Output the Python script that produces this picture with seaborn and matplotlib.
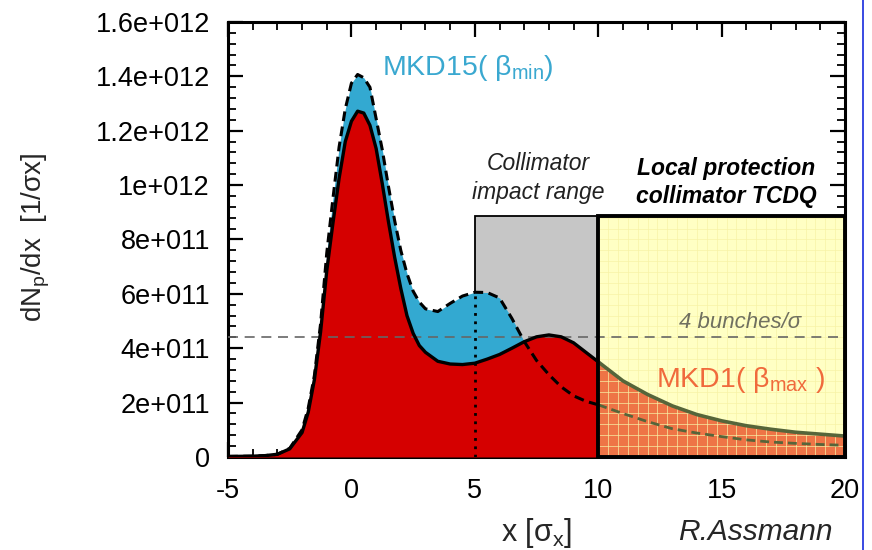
import numpy as np
import pandas as pd
import seaborn as sns
import matplotlib
matplotlib.use("Agg")
import matplotlib.pyplot as plt
from matplotlib.patches import Rectangle
from matplotlib.lines import Line2D
from matplotlib.ticker import MultipleLocator

# Beam position in units of sigma_x
x_sigma = [-5, -4, -3.5, -3, -2.5, -2, -1.75, -1.5, -1.25, -1,
           -0.75, -0.5, -0.25, 0, 0.25, 0.5, 0.75, 1, 1.25, 1.5,
           1.75, 2, 2.25, 2.5, 2.75, 3, 3.5, 4, 4.5, 5,
           5.5, 6, 6.5, 7, 7.5, 8, 8.5, 9, 9.5, 10,
           11, 12, 13, 14, 15, 16, 17, 18, 19, 20]

# Proton density dN_p/dx for an MKD1 (beta max) asynchronous dump
density_mkd1 = [0.02e11, 0.03e11, 0.05e11, 0.1e11, 0.3e11, 0.9e11, 1.65e11, 2.85e11, 4.6e11, 6.85e11,
                8.6e11, 10.25e11, 11.6e11, 12.35e11, 12.72e11, 12.65e11, 12.2e11, 11.35e11, 10.05e11, 8.65e11,
                7.35e11, 6.2e11, 5.2e11, 4.55e11, 4.1e11, 3.85e11, 3.52e11, 3.42e11, 3.4e11, 3.45e11,
                3.6e11, 3.77e11, 4.0e11, 4.24e11, 4.42e11, 4.49e11, 4.42e11, 4.2e11, 3.85e11, 3.5e11,
                2.8e11, 2.3e11, 1.88e11, 1.56e11, 1.33e11, 1.15e11, 1.02e11, 0.91e11, 0.84e11, 0.77e11]

# Proton density dN_p/dx for an MKD15 (beta min) asynchronous dump
density_mkd15 = [0.02e11, 0.03e11, 0.05e11, 0.1e11, 0.32e11, 1.0e11, 1.8e11, 3.0e11, 4.9e11, 7.5e11,
                 9.5e11, 11.4e11, 12.8e11, 13.75e11, 14.07e11, 13.95e11, 13.6e11, 12.45e11, 11.3e11, 9.95e11,
                 8.7e11, 7.6e11, 6.75e11, 6.1e11, 5.7e11, 5.45e11, 5.35e11, 5.65e11, 5.92e11, 6.06e11,
                 6.05e11, 5.85e11, 5.1e11, 4.25e11, 3.55e11, 3.03e11, 2.58e11, 2.25e11, 2.05e11, 1.92e11,
                 1.6e11, 1.3e11, 1.04e11, 0.88e11, 0.75e11, 0.63e11, 0.55e11, 0.5e11, 0.46e11, 0.43e11]

bunch_level = 4.4e11          # 4 bunches per sigma
collimator_edge = 5           # start of collimator impact range
tcdq_edge = 10                # start of TCDQ protection
x_end = 20
box_top = 8.85e11

xtick_values = [-5, 0, 5, 10, 15, 20]
xtick_labels = ["-5", "0", "5", "10", "15", "20"]
ytick_values = [0, 2e11, 4e11, 6e11, 8e11, 1e12, 1.2e12, 1.4e12, 1.6e12]
ytick_labels = ["0", "2e+011", "4e+011", "6e+011", "8e+011",
                "1e+012", "1.2e+012", "1.4e+012", "1.6e+012"]

sns.set_theme(style="ticks")
plt.rcParams["font.family"] = ["Liberation Sans", "DejaVu Sans"]
plt.rcParams["mathtext.fontset"] = "custom"
plt.rcParams["mathtext.rm"] = "Liberation Sans"
plt.rcParams["mathtext.it"] = "Liberation Sans:italic"
plt.rcParams["mathtext.bf"] = "Liberation Sans:bold"

RED = "#d50000"
BLUE = "#33a9d1"
GREY = "#c6c6c6"
YELLOW = "#ffffc4"
ORANGE = "#ee7446"
OLIVE = "#56653a"

df = pd.DataFrame({"x": x_sigma, "mkd1": density_mkd1, "mkd15": density_mkd15})
inner = df[df.x <= tcdq_edge]
outer = df[df.x >= tcdq_edge]

fig = plt.figure(figsize=(8.72, 5.5), dpi=100)
ax = fig.add_axes([0.2615, 0.1691, 0.7076, 0.7909])

# collimator impact range and TCDQ protection zone
ax.add_patch(Rectangle((collimator_edge, 0), tcdq_edge - collimator_edge, box_top,
                       facecolor=GREY, edgecolor="black", lw=1.3, zorder=1))
ax.add_patch(Rectangle((tcdq_edge, 0), x_end - tcdq_edge, box_top,
                       facecolor=YELLOW, edgecolor="none", zorder=1))

# filled distributions
ax.fill_between(inner.x, 0, inner.mkd15, color=BLUE, lw=0, zorder=2)
ax.fill_between(inner.x, 0, inner.mkd1, color=RED, lw=0, zorder=3)
ax.fill_between(outer.x, 0, outer.mkd1, color=ORANGE, lw=0, zorder=3)

# faint graph-paper grid inside the TCDQ zone
ax.vlines(np.arange(tcdq_edge + 0.4, x_end, 0.4), 0, box_top,
          colors="#f7f2a6", lw=0.6, alpha=0.8, zorder=3.5)
ax.hlines(np.arange(0.4e11, box_top, 0.4e11), tcdq_edge, x_end,
          colors="#f7f2a6", lw=0.6, alpha=0.8, zorder=3.5)

# 4 bunches per sigma level
ax.axhline(bunch_level, color="#666666", lw=1.2, ls=(0, (6, 4)), zorder=4)

# curve outlines
sns.lineplot(data=inner, x="x", y="mkd1", color="black", lw=2.4, ax=ax,
             sort=False, estimator=None, zorder=6)
sns.lineplot(data=inner, x="x", y="mkd15", color="black", lw=2.2, ax=ax,
             sort=False, estimator=None, linestyle=(0, (3.2, 1.8)), zorder=6)
sns.lineplot(data=outer, x="x", y="mkd1", color=OLIVE, lw=2.6, ax=ax,
             sort=False, estimator=None, zorder=6)
sns.lineplot(data=outer, x="x", y="mkd15", color=OLIVE, lw=2.0, ax=ax,
             sort=False, estimator=None, linestyle=(0, (3.2, 1.8)), zorder=6)

# dotted marker at the collimator edge, up to the MKD15 curve
edge_height = df.loc[df.x == collimator_edge, "mkd15"].iloc[0]
ax.vlines(collimator_edge, 0, edge_height, colors="black", lw=2.0,
          linestyles=(0, (1, 2)), zorder=6)

# frame of the TCDQ zone
ax.add_patch(Rectangle((tcdq_edge, 0), x_end - tcdq_edge, box_top,
                       facecolor="none", edgecolor="black", lw=2.8, zorder=7, clip_on=False))

# annotations
ax.text(1.23, 14.04e11, "MKD15( β$_{\\mathrm{min}}$)", color="#3aa8d0",
        fontsize=20.5, ha="left", va="baseline", zorder=8)
ax.text(7.58, 10.26e11, "Collimator\nimpact range", style="italic", color="#222222",
        fontsize=16.5, ha="center", va="center", linespacing=1.3, zorder=8)
ax.text(15.19, 10.09e11, "Local protection\ncollimator TCDQ", style="italic",
        weight="bold", color="black", fontsize=16.5, ha="center", va="center",
        linespacing=1.25, zorder=8)
ax.text(15.75, 4.96e11, "4 bunches/σ", style="italic", color="#707060",
        fontsize=16, ha="center", va="center", zorder=8)
ax.text(12.35, 2.57e11, "MKD1( β$_{\\mathrm{max}}$ )", color="#f06a3c",
        fontsize=20.5, ha="left", va="baseline", zorder=8)
fig.text(678 / 872, 1 - 540 / 550, "R.Assmann", style="italic", fontsize=21.5,
         ha="left", va="baseline")

# axes
ax.set_xlim(-5, x_end)
ax.set_ylim(0, 1.6e12)
ax.set_xticks(xtick_values)
ax.set_xticklabels(xtick_labels)
ax.set_yticks(ytick_values)
ax.set_yticklabels(ytick_labels)
ax.xaxis.set_minor_locator(MultipleLocator(1))
ax.yaxis.set_minor_locator(MultipleLocator(0.4e11))
ax.tick_params(which="both", direction="in", top=True, right=True, colors="black")
ax.tick_params(which="major", length=11, width=1.6, labelsize=19.5)
ax.tick_params(which="minor", length=5.5, width=1.3)
ax.tick_params(axis="x", which="major", pad=15)
ax.tick_params(axis="y", which="major", pad=13)
for side in ax.spines.values():
    side.set_linewidth(2.2)
    side.set_color("black")

ax.set_xlabel("x [σ$_{\\mathrm{x}}$]", fontsize=22)
ax.xaxis.set_label_coords(0.5, -0.135)
ax.set_ylabel("dN$_{\\mathrm{p}}$/dx  [1/σx]", fontsize=20)
ax.yaxis.set_label_coords(-0.285, 0.506)

# thin blue page rule on the right
fig.add_artist(Line2D([863 / 872, 863 / 872], [0, 1], transform=fig.transFigure,
                      color="#2a3adf", lw=1.3))

fig.savefig("out.png", dpi=100, facecolor="white")
